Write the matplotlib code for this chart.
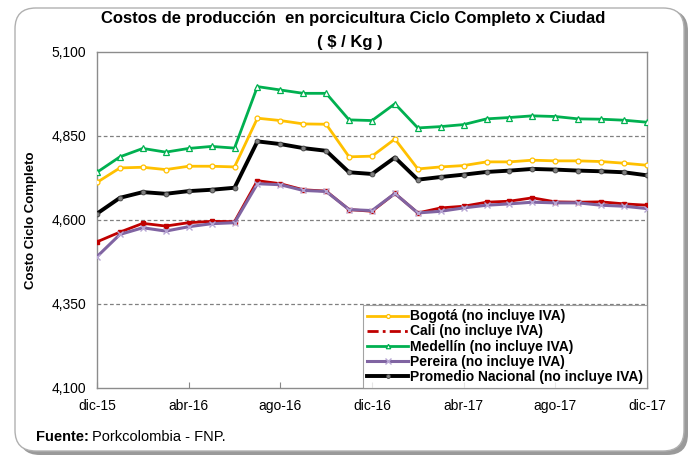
import matplotlib
matplotlib.use("Agg")
import matplotlib.pyplot as plt
from matplotlib import font_manager
from matplotlib.patches import FancyBboxPatch
from matplotlib.lines import Line2D

# ---------------- data ----------------
months = ["dic-15", "ene-16", "feb-16", "mar-16", "abr-16", "may-16", "jun-16", "jul-16",
          "ago-16", "sep-16", "oct-16", "nov-16", "dic-16", "ene-17", "feb-17", "mar-17",
          "abr-17", "may-17", "jun-17", "jul-17", "ago-17", "sep-17", "oct-17", "nov-17", "dic-17"]
tick_labels = ["dic-15", "abr-16", "ago-16", "dic-16", "abr-17", "ago-17", "dic-17"]
y_ticks = [4100, 4350, 4600, 4850, 5100]

bogota = [4712, 4755, 4757, 4750, 4760, 4760, 4758, 4903, 4896, 4886, 4885, 4788, 4790,
          4841, 4752, 4758, 4762, 4773, 4773, 4778, 4776, 4776, 4774, 4769, 4763]
cali = [4535, 4564, 4590, 4582, 4592, 4596, 4595, 4717, 4708, 4690, 4686, 4631, 4626,
        4679, 4621, 4636, 4641, 4653, 4656, 4666, 4654, 4653, 4654, 4648, 4644]
medellin = [4742, 4788, 4813, 4802, 4813, 4819, 4814, 4997, 4987, 4977, 4977, 4898, 4896,
            4946, 4874, 4878, 4884, 4901, 4905, 4910, 4908, 4901, 4900, 4897, 4891]
pereira = [4491, 4557, 4577, 4567, 4580, 4589, 4592, 4708, 4705, 4688, 4685, 4631, 4628,
           4679, 4621, 4626, 4636, 4644, 4648, 4653, 4651, 4651, 4644, 4641, 4634]
promedio = [4619, 4666, 4683, 4678, 4686, 4690, 4696, 4834, 4826, 4814, 4806, 4742, 4737,
            4786, 4720, 4728, 4735, 4743, 4747, 4752, 4750, 4747, 4745, 4742, 4733]

# ---------------- fonts ----------------
avail = {f.name for f in font_manager.fontManager.ttflist}
narrow = "Liberation Sans Narrow" if "Liberation Sans Narrow" in avail else "Liberation Sans"
plt.rcParams["font.family"] = ["Liberation Sans", "DejaVu Sans"]

W, H = 694, 462
fig = plt.figure(figsize=(W / 100, H / 100), dpi=100)

# rounded frame with shadow
shadow = FancyBboxPatch((19 / W, 1 - 455 / H), 669 / W, 445 / H,
                        boxstyle="round,pad=0,rounding_size=0.03",
                        transform=fig.transFigure, facecolor="#9a9a9a", edgecolor="none",
                        zorder=0, mutation_aspect=W / H)
frame = FancyBboxPatch((15 / W, 1 - 451 / H), 669 / W, 443 / H,
                       boxstyle="round,pad=0,rounding_size=0.03",
                       transform=fig.transFigure, facecolor="white", edgecolor="#b0b0b0",
                       linewidth=1.0, zorder=1, mutation_aspect=W / H)
fig.patches.extend([shadow, frame])

left, right, top, bottom = 97, 647, 52, 388
ax = fig.add_axes([left / W, 1 - bottom / H, (right - left) / W, (bottom - top) / H])
ax.set_zorder(2)
ax.patch.set_facecolor("white")

x = list(range(len(months)))

styles = [
    dict(color="#FFC000", lw=2.0, marker="o", ms=3.5, mfc="white", mec="#FFC000", mew=0.9),
    dict(color="#C00000", lw=2.0, marker="s", ms=2.2, mfc="#C00000", mec="#C00000"),
    dict(color="#00B050", lw=2.0, marker="^", ms=4.0, mfc="white", mec="#00B050", mew=0.9),
    dict(color="#8064A2", lw=2.2, marker="x", ms=5, mec="#B7A6D3", mew=1.0),
    dict(color="black", lw=2.8, marker="o", ms=3.5, mfc="#808080", mec="#404040", mew=0.6),
]
labels = ["Bogotá (no incluye IVA)", "Cali (no incluye IVA)", "Medellín (no incluye IVA)",
          "Pereira (no incluye IVA)", "Promedio Nacional (no incluye IVA)"]
series = [bogota, cali, medellin, pereira, promedio]
zorders = [4, 3, 4, 3.5, 5]

for s, st, z in zip(series, styles, zorders):
    ax.plot(x, s, zorder=z, **st)

ax.set_xlim(0, len(months) - 1)
ax.set_ylim(y_ticks[0], y_ticks[-1])
ax.set_yticks(y_ticks)
ax.set_yticklabels([f"{v:,}" for v in y_ticks], fontfamily=narrow, fontsize=10)
ax.set_xticks([months.index(t) for t in tick_labels])
ax.set_xticklabels(tick_labels, fontfamily=narrow, fontsize=10)
ax.tick_params(axis="y", length=0, pad=8)
ax.tick_params(axis="x", direction="in", length=4, color="#888888", pad=8)

for v in y_ticks[1:-1]:
    ax.axhline(v, color="#808080", lw=0.9, ls=(0, (3, 2)), zorder=1)
for sp in ax.spines.values():
    sp.set_color("#8c8c8c")
    sp.set_linewidth(1.0)

ax.set_ylabel("Costo Ciclo Completo", fontweight="bold", fontsize=9.5, labelpad=10)

# legend handles (Cali shown dash-dot as in the original legend)
handles = []
for i, st in enumerate(styles):
    st2 = dict(st)
    st2["ms"] = st2.get("ms", 4) * 0.8
    if i == 1:
        st2["ls"] = (0, (4, 1.5, 1, 1.5))
        st2["marker"] = None
    handles.append(Line2D([], [], **st2))

leg = ax.legend(handles, labels, loc="lower right", bbox_to_anchor=(1.0, 0.0), borderaxespad=0,
                frameon=True, fancybox=False, handlelength=2.9, handletextpad=0.15,
                labelspacing=0.08, borderpad=0.3, prop={"weight": "bold", "size": 10})
leg.get_frame().set_edgecolor("#8c8c8c")
leg.get_frame().set_linewidth(0.8)
leg.set_zorder(10)

fig.text(353 / W, 1 - 18 / H, "Costos de producción  en porcicultura Ciclo Completo x Ciudad",
         ha="center", va="center", fontsize=12, fontweight="bold", fontfamily=narrow, zorder=5)
fig.text(350 / W, 1 - 42 / H, "( $ / Kg )", ha="center", va="center", fontsize=12,
         fontweight="bold", fontfamily=narrow, zorder=5)

t1 = fig.text(36 / W, 1 - 437 / H, "Fuente:", ha="left", va="center", fontsize=10.5,
              fontweight="bold", fontfamily=narrow, zorder=5)
fig.canvas.draw()
bb = t1.get_window_extent(renderer=fig.canvas.get_renderer())
fig.text((bb.x1 + 3) / W, 1 - 437 / H, "Porkcolombia - FNP.", ha="left", va="center",
         fontsize=10.5, fontfamily=narrow, zorder=5)

fig.savefig("out.png", dpi=100)
